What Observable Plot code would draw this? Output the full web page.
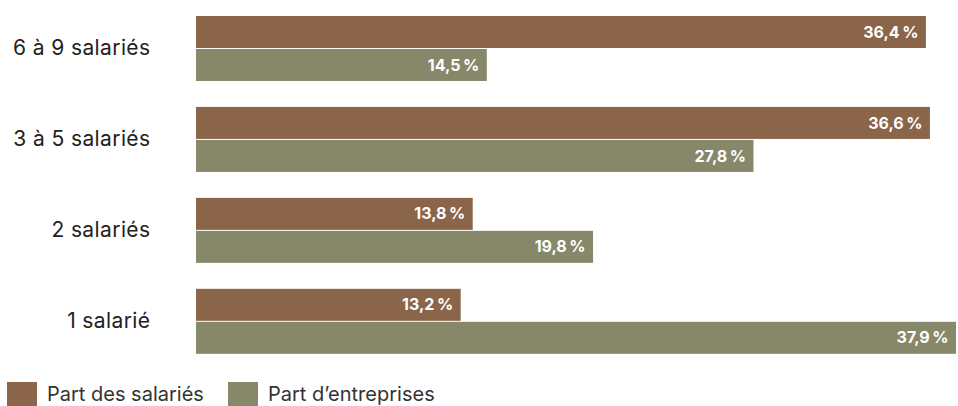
<!DOCTYPE html>
<html>
<head>
<meta charset="utf-8">
<script src="https://cdn.jsdelivr.net/npm/d3@7"></script>
<script src="https://cdn.jsdelivr.net/npm/@observablehq/plot@0.6"></script>
<style>
  html, body { margin: 0; padding: 0; background: #fff; }
  body { width: 958px; height: 406px; overflow: hidden; font-family: Inter, "Open Sans", sans-serif; }
  #chart svg { display: block; }
  #chart g[aria-label="fy-axis tick label"] text { letter-spacing: 0.4px; }
  .legend { display: flex; align-items: center; height: 34px; padding-left: 7px; margin-top: 7px; font-size: 20px; color: #333; }
  .legend .item { display: flex; align-items: center; margin-right: 24px; }
  .legend .sw { width: 30px; height: 24px; margin-right: 10px; }
</style>
</head>
<body>
<div id="chart"></div>
<div class="legend" id="legend"></div>
<script>
const categories = ["6 à 9 salariés", "3 à 5 salariés", "2 salariés", "1 salarié"];
const seriesNames = ["Part des salariés", "Part d\u2019entreprises"];
const partSalaries = [36.4, 36.6, 13.8, 13.2];
const partEntreprises = [14.5, 27.8, 19.8, 37.9];
const colors = ["#8B6549", "#87876A"];

const data = [];
categories.forEach((c, i) => {
  data.push({cat: c, series: seriesNames[0], value: partSalaries[i]});
  data.push({cat: c, series: seriesNames[1], value: partEntreprises[i]});
});
const fmt = v => v.toFixed(1).replace(".", ",") + "\u202F%";

const chart = Plot.plot({
  width: 958,
  height: 370,
  marginLeft: 196,
  marginRight: 0,
  marginTop: 15,
  marginBottom: 16,
  style: {fontFamily: "Inter, 'Open Sans', sans-serif"},
  x: {domain: [0, 38], axis: null},
  y: {domain: seriesNames, axis: null, paddingInner: 0.03, paddingOuter: 0},
  fy: {domain: categories, paddingInner: 0.272, paddingOuter: 0, round: false},
  color: {domain: seriesNames, range: colors},
  marks: [
    Plot.barX(data, {fy: "cat", y: "series", x: "value", fill: "series"}),
    Plot.text(data, {fy: "cat", y: "series", x: "value", text: d => fmt(d.value),
      textAnchor: "end", dx: -8, fill: "white", fontWeight: "bold", fontSize: 16}),
    Plot.axisFy({anchor: "left", tickSize: 0, tickPadding: 46, fontSize: 21, label: null, color: "#222"})
  ]
});
document.getElementById("chart").appendChild(chart);

const legend = document.getElementById("legend");
seriesNames.forEach((s, i) => {
  const item = document.createElement("div");
  item.className = "item";
  const sw = document.createElement("div");
  sw.className = "sw";
  sw.style.background = colors[i];
  const t = document.createElement("span");
  t.textContent = s;
  item.appendChild(sw);
  item.appendChild(t);
  legend.appendChild(item);
});
</script>
</body>
</html>
